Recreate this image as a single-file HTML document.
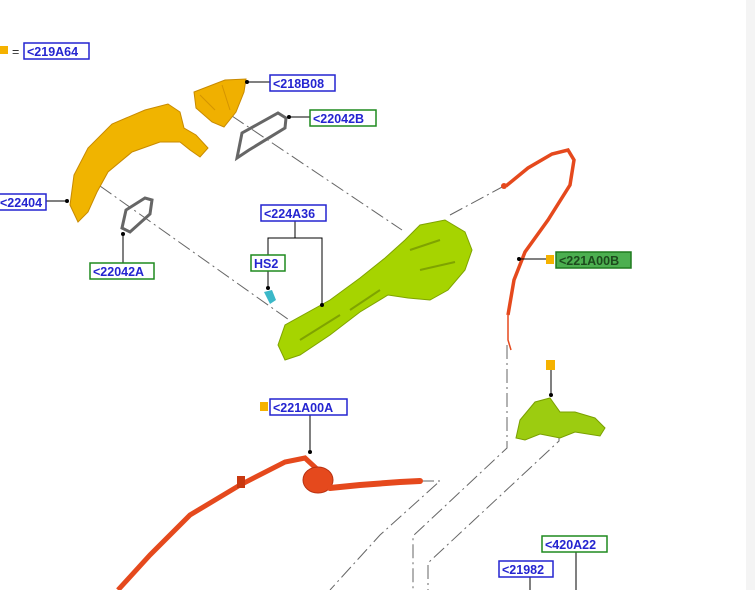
<!DOCTYPE html>
<html><head><meta charset="utf-8"><style>
html,body{margin:0;padding:0;background:#fff;}
svg{display:block;}
text{font-family:"Liberation Sans",sans-serif;font-weight:bold;font-size:12.5px;}
</style></head><body>
<svg width="755" height="590" viewBox="0 0 755 590" xmlns="http://www.w3.org/2000/svg">
<rect x="0" y="0" width="755" height="590" fill="#fff"/>
<rect x="746" y="0" width="9" height="590" fill="#f4f4f4"/>

<g stroke="#666" stroke-width="1" fill="none" stroke-dasharray="14,4,2,4">
<line x1="100" y1="186" x2="292" y2="322"/>
<line x1="232" y1="116" x2="402" y2="230"/>
<line x1="450" y1="215" x2="504" y2="186"/>
<polyline points="507,345 507,448 413,536 413,590"/>
<polyline points="559,430 559,441 428,563 428,590"/>
<polyline points="420,481 440,481 380,535 330,590"/>
</g>

<path d="M194,92 L225,80 L246,79 L244,92 L236,112 L224,127 L212,122 L196,108 Z" fill="#f0b000" stroke="#c88a00" stroke-width="1"/>
<path d="M200,95 L215,110 M222,85 L230,110" stroke="#d49400" fill="none"/>
<path d="M237,158 L242,133 L278,113 L286,118 L285,128 L249,150 Z" fill="none" stroke="#666" stroke-width="3"/>
<path d="M70,205 L74,175 L88,148 L112,124 L145,110 L168,104 L180,112 L184,128 L196,135 L208,148 L200,157 L190,150 L180,142 L160,142 L132,152 L108,172 L97,192 L88,212 L78,222 Z" fill="#f0b400" stroke="#c88a00" stroke-width="1"/>
<path d="M122,228 L126,210 L145,198 L152,200 L150,214 L130,232 Z" fill="none" stroke="#666" stroke-width="3"/>

<path d="M278,345 L285,325 L330,300 L360,278 L385,258 L405,240 L420,225 L445,220 L465,232 L472,250 L465,270 L448,290 L430,300 L408,298 L388,295 L360,312 L330,335 L300,355 L285,360 Z" fill="#a6d400" stroke="#7fa300" stroke-width="1"/>
<path d="M300,340 L340,315 M350,310 L380,290 M410,250 L440,240 M420,270 L455,262" stroke="#7fa300" stroke-width="2" fill="none"/>
<path d="M264,292 L272,290 L276,300 L270,304 Z" fill="#3bb8c8"/>

<path d="M516,438 L520,420 L535,402 L550,398 L560,412 L575,412 L595,418 L605,428 L600,436 L575,432 L560,438 L540,434 L525,440 Z" fill="#9ccc10" stroke="#7aa000" stroke-width="1"/>

<path d="M506,186 L528,168 L552,154 L568,150 L574,160 L570,185 L548,220 L525,252 L514,280 L508,315" fill="none" stroke="#e5491d" stroke-width="3.5"/>
<path d="M508,315 L508,340 L511,350" fill="none" stroke="#e5491d" stroke-width="1.5"/>
<circle cx="504" cy="186" r="3" fill="#e5491d"/>

<path d="M118,590 L150,555 L190,515 L240,485 L285,462 L305,458 L318,470" fill="none" stroke="#e5491d" stroke-width="5"/>
<ellipse cx="318" cy="480" rx="15" ry="13" fill="#e5491d" stroke="#b83010"/>
<path d="M330,488 L360,485 L400,482 L420,481" fill="none" stroke="#e5491d" stroke-width="6" stroke-linecap="round"/>
<rect x="237" y="476" width="8" height="12" fill="#c83810"/>

<g stroke="#000" stroke-width="1" fill="none">
<line x1="247" y1="82" x2="270" y2="82"/>
<line x1="289" y1="117" x2="310" y2="117"/>
<line x1="46" y1="201" x2="67" y2="201"/>
<line x1="123" y1="234" x2="123" y2="263"/>
<polyline points="295,221 295,238"/>
<polyline points="268,255 268,238 322,238 322,305"/>
<line x1="268" y1="271" x2="268" y2="288"/>
<line x1="519" y1="259" x2="546" y2="259"/>
<line x1="551" y1="370" x2="551" y2="395"/>
<line x1="310" y1="415" x2="310" y2="452"/>
<line x1="576" y1="552" x2="576" y2="590"/>
<line x1="530" y1="577" x2="530" y2="590"/>
</g>
<g fill="#000">
<circle cx="247" cy="82" r="2"/><circle cx="289" cy="117" r="2"/><circle cx="67" cy="201" r="2"/>
<circle cx="123" cy="234" r="2"/><circle cx="322" cy="305" r="2"/><circle cx="268" cy="288" r="2"/>
<circle cx="519" cy="259" r="2"/><circle cx="551" cy="395" r="2"/><circle cx="310" cy="452" r="2"/>
</g>

<g fill="#f5b200">
<rect x="0" y="46" width="8" height="8"/>
<rect x="546" y="255" width="8" height="9"/>
<rect x="546" y="360" width="9" height="10"/>
<rect x="260" y="402" width="8" height="9"/>
</g>
<text x="12" y="56" fill="#333" style="font-weight:normal">=</text>

<g fill="#fff" stroke-width="1.5">
<rect x="24" y="43" width="65" height="16" stroke="#2424d0"/>
<rect x="270" y="75" width="65" height="16" stroke="#2424d0"/>
<rect x="310" y="110" width="66" height="16" stroke="#1f8a1f"/>
<rect x="-2" y="194" width="48" height="16" stroke="#2424d0"/>
<rect x="90" y="263" width="64" height="16" stroke="#1f8a1f"/>
<rect x="261" y="205" width="65" height="16" stroke="#2424d0"/>
<rect x="251" y="255" width="34" height="16" stroke="#1f8a1f"/>
<rect x="556" y="252" width="75" height="16" stroke="#1f7a1f" fill="#4caf50"/>
<rect x="270" y="399" width="77" height="16" stroke="#2424d0"/>
<rect x="542" y="536" width="65" height="16" stroke="#1f8a1f"/>
<rect x="499" y="561" width="54" height="16" stroke="#2424d0"/>
</g>
<g fill="#2424d0">
<text x="27" y="56">&lt;219A64</text>
<text x="273" y="88">&lt;218B08</text>
<text x="313" y="123">&lt;22042B</text>
<text x="0" y="207">&lt;22404</text>
<text x="93" y="276">&lt;22042A</text>
<text x="264" y="218">&lt;224A36</text>
<text x="254" y="268">HS2</text>
<text x="273" y="412">&lt;221A00A</text>
<text x="545" y="549">&lt;420A22</text>
<text x="502" y="574">&lt;21982</text>
</g>
<text x="559" y="265" fill="#1d4a1d">&lt;221A00B</text>
</svg>
</body></html>
